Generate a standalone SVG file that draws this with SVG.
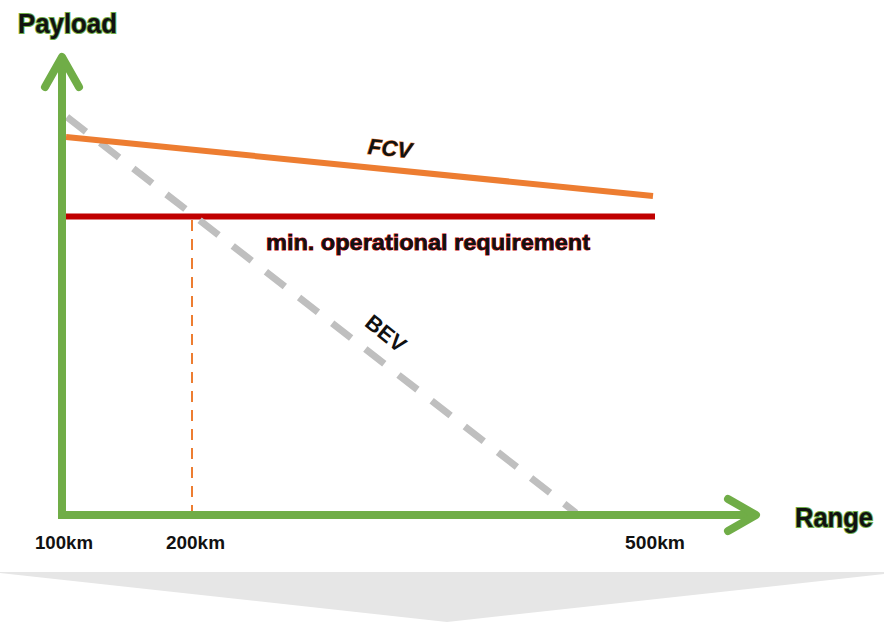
<svg xmlns="http://www.w3.org/2000/svg" width="884" height="627" viewBox="0 0 884 627">
  <style>
    .axis { stroke: #70AD47; stroke-width: 8; fill: none; }
    .head { stroke: #70AD47; stroke-width: 8; fill: none; stroke-linecap: round; stroke-linejoin: round; }
    .lbl { font-family: "Liberation Sans", Arial, sans-serif; font-weight: bold; fill: #111; paint-order: stroke; }
    .axlbl { font-size: 27px; stroke: #70AD47; stroke-width: 2; }
    .km { font-size: 19px; }
  </style>
  <rect width="884" height="627" fill="#FFFFFF"/>
  <g id="band">
    <polygon points="0,572 884,572 884,574 447,622 0,573" fill="#E6E6E6"/>
  </g>
  <g id="connectors">
    <line id="min-req" x1="66" y1="216.5" x2="655" y2="216.5" stroke="#C00000" stroke-width="6"/>
    <line id="bev" x1="67" y1="117" x2="576" y2="513" stroke="#BFBFBF" stroke-width="7" stroke-dasharray="24 18"/>
    <line id="fcv" x1="66" y1="137" x2="653" y2="196" stroke="#ED7D31" stroke-width="6"/>
    <line id="dash200" x1="192" y1="220" x2="192" y2="514" stroke="#ED7D31" stroke-width="2" stroke-dasharray="11 8"/>
  </g>
  <g id="y-axis">
    <line class="axis" x1="62" y1="60" x2="62" y2="519"/>
    <polyline class="head" points="45,87 62,57 79,87"/>
  </g>
  <g id="x-axis">
    <line class="axis" x1="58" y1="515" x2="752" y2="515"/>
    <polyline class="head" points="728,499 756,515 728,531"/>
  </g>
  <g id="labels">
    <text class="lbl axlbl" x="18" y="33" textLength="99" lengthAdjust="spacingAndGlyphs">Payload</text>
    <text class="lbl axlbl" x="795" y="527" textLength="78" lengthAdjust="spacingAndGlyphs">Range</text>
    <text class="lbl km" x="35" y="549" textLength="58" lengthAdjust="spacingAndGlyphs">100km</text>
    <text class="lbl km" x="166" y="549" textLength="59" lengthAdjust="spacingAndGlyphs">200km</text>
    <text class="lbl km" x="625" y="549" textLength="60" lengthAdjust="spacingAndGlyphs">500km</text>
    <text class="lbl" x="266" y="250" font-size="22" stroke="#C00000" stroke-width="1" textLength="324" lengthAdjust="spacingAndGlyphs">min. operational requirement</text>
    <text class="lbl" x="390" y="156" font-size="22" font-style="italic" stroke="#ED7D31" stroke-width="1" text-anchor="middle" transform="rotate(6 390 148)">FCV</text>
    <text class="lbl" x="386" y="341" font-size="22" text-anchor="middle" transform="rotate(39 386 333)">BEV</text>
  </g>
</svg>
